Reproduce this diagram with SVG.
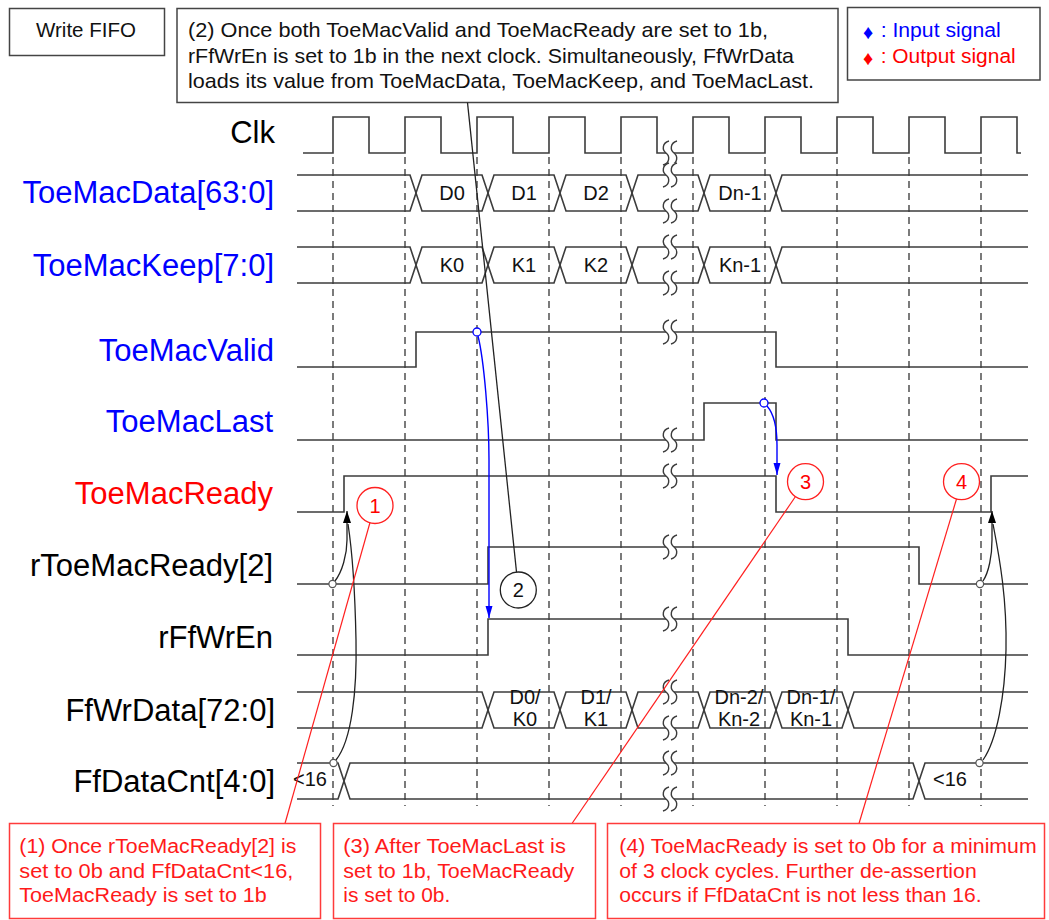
<svg xmlns="http://www.w3.org/2000/svg" width="1049" height="920" viewBox="0 0 1049 920">
<style>
text{font-family:"Liberation Sans",Arial,sans-serif}
.lbl{font-size:31px;text-anchor:end;fill:#000}
.blu{fill:#0000ff}
.rd{fill:#ff0000}
.w{fill:none;stroke:#3c3c3c;stroke-width:1.6}
.dash{fill:none;stroke:#5a5a5a;stroke-width:1.6;stroke-dasharray:7 5}
.cell{font-size:20px;text-anchor:middle;fill:#111}
.box{fill:#fff;stroke:#444;stroke-width:1.5}
.rbox{fill:#fff;stroke:#ff3b3b;stroke-width:1.5}
.note{font-size:21px;fill:#111}
.rnote{font-size:19.5px;fill:#ff1a1a}
.mk{fill:#fff;stroke:#555;stroke-width:1.2}
.bmk{fill:#fff;stroke:#0000ff;stroke-width:1.3}
.bl{fill:none;stroke:#0000ff;stroke-width:1.4}
.kl{fill:none;stroke:#222;stroke-width:1.3}
.rl{fill:none;stroke:#ff2020;stroke-width:1.2}
.num{font-size:20px;text-anchor:middle}
</style>
<defs>
<g id="brk">
<path d="M-1,-12 C-8,-10 -8,-3 -4,0 C0,3 0,10 -7,12 L1,12 C8,10 8,3 4,0 C0,-3 0,-10 7,-12 Z" fill="#fff"/>
<path d="M-1,-12 C-8,-10 -8,-3 -4,0 C0,3 0,10 -7,12 M7,-12 C0,-10 0,-3 4,0 C8,3 8,10 1,12" fill="none" stroke="#3c3c3c" stroke-width="1.4"/>
</g>
<marker id="ab" markerUnits="userSpaceOnUse" markerWidth="14" markerHeight="10" refX="12" refY="3.5" orient="auto">
<path d="M0,0 L12,3.5 L0,7 Z" fill="#0000ff"/>
</marker>
<marker id="ak" markerUnits="userSpaceOnUse" markerWidth="14" markerHeight="10" refX="12" refY="4" orient="auto">
<path d="M0,0 L12,4 L0,8 Z" fill="#000"/>
</marker>
</defs>

<rect width="1049" height="920" fill="#fff"/>

<g id="title">
<rect class="box" x="9.5" y="8.5" width="155" height="47"/>
<text x="36" y="37.3" font-size="20" textLength="100" lengthAdjust="spacingAndGlyphs" fill="#111">Write FIFO</text>
</g>

<g id="note2">
<rect class="box" x="177" y="8.5" width="661" height="94"/>
<text class="note" x="188" y="37.3" textLength="580" lengthAdjust="spacingAndGlyphs">(2) Once both ToeMacValid and ToeMacReady are set to 1b,</text>
<text class="note" x="188" y="62.5" textLength="606" lengthAdjust="spacingAndGlyphs">rFfWrEn is set to 1b in the next clock. Simultaneously, FfWrData</text>
<text class="note" x="188" y="87.5" textLength="626" lengthAdjust="spacingAndGlyphs">loads its value from ToeMacData, ToeMacKeep, and ToeMacLast.</text>
</g>

<g id="legend">
<rect class="box" x="847.5" y="7.5" width="192.5" height="72.5"/>
<text x="868" y="38.5" font-size="20" text-anchor="middle" class="blu">♦</text>
<text x="880.7" y="37.3" font-size="20" class="blu" textLength="120" lengthAdjust="spacingAndGlyphs">: Input signal</text>
<text x="868" y="64.5" font-size="20" text-anchor="middle" class="rd">♦</text>
<text x="880.7" y="63.3" font-size="20" class="rd" textLength="135" lengthAdjust="spacingAndGlyphs">: Output signal</text>
</g>

<g id="grid">
<path class="dash" d="M333,157V806M405,157V806M477,157V806M549,157V806M621,157V806M693,157V806M765,157V806M837,157V806M909,157V806M981,157V806"/>
</g>

<g id="sig-clk">
<text class="lbl" x="275" y="142.7">Clk</text>
<path class="w" d="M303,153H333V117H369V153H405V117H441V153H477V117H513V153H549V117H585V153H621V117H657V153H693V117H729V153H765V117H801V153H837V117H873V153H909V117H945V153H981V117H1017V153H1021"/>
<use href="#brk" x="670" y="153"/>
</g>

<g id="sig-toemacdata">
<text class="lbl blu" x="274" y="203.3">ToeMacData[63:0]</text>
<path class="w" d="M297,175H410L422,211H482L494,175H554L566,211H626L638,175H698L710,211H770L782,175H1028"/>
<path class="w" d="M297,211H410L422,175H482L494,211H554L566,175H626L638,211H698L710,175H770L782,211H1028"/>
<use href="#brk" x="670" y="175"/>
<use href="#brk" x="670" y="211"/>
<text class="cell" x="452" y="200">D0</text>
<text class="cell" x="524" y="200">D1</text>
<text class="cell" x="596" y="200">D2</text>
<text class="cell" x="740" y="200">Dn-1</text>
</g>

<g id="sig-toemackeep">
<text class="lbl blu" x="274" y="276">ToeMacKeep[7:0]</text>
<path class="w" d="M297,247H410L422,283H482L494,247H554L566,283H626L638,247H698L710,283H770L782,247H1028"/>
<path class="w" d="M297,283H410L422,247H482L494,283H554L566,247H626L638,283H698L710,247H770L782,283H1028"/>
<use href="#brk" x="670" y="247"/>
<use href="#brk" x="670" y="283"/>
<text class="cell" x="452" y="272">K0</text>
<text class="cell" x="524" y="272">K1</text>
<text class="cell" x="596" y="272">K2</text>
<text class="cell" x="740" y="272">Kn-1</text>
</g>

<g id="sig-toemacvalid">
<text class="lbl blu" x="274" y="361">ToeMacValid</text>
<path class="w" d="M297,367H416V332H776V367H1028"/>
<use href="#brk" x="670" y="332"/>
</g>

<g id="sig-toemaclast">
<text class="lbl blu" x="273" y="432">ToeMacLast</text>
<path class="w" d="M297,440H704V403H776V440H1028"/>
<use href="#brk" x="670" y="440"/>
</g>

<g id="sig-toemacready">
<text class="lbl rd" x="273" y="503.5">ToeMacReady</text>
<path class="w" d="M297,512H344V476H776V512H991V476H1028"/>
<use href="#brk" x="670" y="476"/>
</g>

<g id="sig-rtoemacready">
<text class="lbl" x="273" y="576">rToeMacReady[2]</text>
<path class="w" d="M297,584H488V547H919V584H1028"/>
<use href="#brk" x="670" y="547"/>
</g>

<g id="sig-rffwren">
<text class="lbl" x="273" y="647.5">rFfWrEn</text>
<path class="w" d="M297,655H488V619H848V655H1028"/>
<use href="#brk" x="670" y="619"/>
</g>

<g id="sig-ffwrdata">
<text class="lbl" x="275" y="721">FfWrData[72:0]</text>
<path class="w" d="M297,692H482L494,728H554L566,692H626L638,728H698L710,692H770L782,728H842L854,692H1028"/>
<path class="w" d="M297,728H482L494,692H554L566,728H626L638,692H698L710,728H770L782,692H842L854,728H1028"/>
<use href="#brk" x="670" y="692"/>
<use href="#brk" x="670" y="728"/>
<text class="cell" x="525" y="704">D0/</text>
<text class="cell" x="525" y="726">K0</text>
<text class="cell" x="596" y="704">D1/</text>
<text class="cell" x="596" y="726">K1</text>
<text class="cell" x="739" y="704">Dn-2/</text>
<text class="cell" x="739" y="726">Kn-2</text>
<text class="cell" x="811" y="704">Dn-1/</text>
<text class="cell" x="811" y="726">Kn-1</text>
</g>

<g id="sig-ffdatacnt">
<text class="lbl" x="275" y="792">FfDataCnt[4:0]</text>
<path class="w" d="M297,763H338L350,799H913L925,763H1028"/>
<path class="w" d="M297,799H338L350,763H913L925,799H1028"/>
<use href="#brk" x="670" y="763"/>
<use href="#brk" x="670" y="799"/>
<text class="cell" x="310" y="786">&lt;16</text>
<text class="cell" x="950" y="786">&lt;16</text>
</g>

<g id="connectors">
<path class="bl" d="M478,336C484,360 489,420 489,460L489,618" marker-end="url(#ab)"/>
<path class="bl" d="M767,406C774,414 777,428 777,445L777,475" marker-end="url(#ab)"/>
<path class="kl" d="M335,581C342,572 347,555 347,540L347,511" marker-end="url(#ak)"/>
<path class="kl" d="M336,760C352,740 357,690 356,640C355,590 352,550 348,524"/>
<path class="kl" d="M983,581C989,572 992,555 992,540L992,511" marker-end="url(#ak)"/>
<path class="kl" d="M983,760C997,740 1005,695 1006,650C1007,600 1000,560 993,524"/>
<circle class="bmk" cx="477" cy="332" r="4"/>
<circle class="bmk" cx="764" cy="403" r="4"/>
<circle class="mk" cx="332.5" cy="584" r="3.6"/>
<circle class="mk" cx="333.5" cy="763" r="3.6"/>
<circle class="mk" cx="980" cy="584" r="3.6"/>
<circle class="mk" cx="979.5" cy="763" r="3.6"/>
<path class="kl" d="M467.5,102.5L516.5,572" stroke-width="1.1"/>
<path class="rl" d="M370,522.5L285,823.5"/>
<path class="rl" d="M795.5,496.5L572,823.5"/>
<path class="rl" d="M956.5,499L859,823.5"/>
</g>

<g id="mark1">
<circle cx="375" cy="505.5" r="18" fill="#fff" stroke="#ff2020" stroke-width="1.3"/>
<text class="num rd" x="375" y="512.5">1</text>
</g>
<g id="mark2">
<circle cx="518.3" cy="590" r="18" fill="#fff" stroke="#222" stroke-width="1.3"/>
<text class="num" x="518.3" y="597" fill="#111">2</text>
</g>
<g id="mark3">
<circle cx="805.5" cy="481.7" r="18" fill="#fff" stroke="#ff2020" stroke-width="1.3"/>
<text class="num rd" x="805.5" y="488.7">3</text>
</g>
<g id="mark4">
<circle cx="961.5" cy="481.7" r="18" fill="#fff" stroke="#ff2020" stroke-width="1.3"/>
<text class="num rd" x="961.5" y="488.7">4</text>
</g>

<g id="note1">
<rect class="rbox" x="9.5" y="823.5" width="311" height="95"/>
<text class="rnote" x="19.3" y="853" textLength="277" lengthAdjust="spacingAndGlyphs">(1) Once rToeMacReady[2] is</text>
<text class="rnote" x="19.3" y="878" textLength="274" lengthAdjust="spacingAndGlyphs">set to 0b and FfDataCnt&lt;16,</text>
<text class="rnote" x="19.3" y="902.3" textLength="247.5" lengthAdjust="spacingAndGlyphs">ToeMacReady is set to 1b</text>
</g>
<g id="note3">
<rect class="rbox" x="333.5" y="823.5" width="262" height="95"/>
<text class="rnote" x="343.3" y="853" textLength="222.5" lengthAdjust="spacingAndGlyphs">(3) After ToeMacLast is</text>
<text class="rnote" x="343.3" y="878" textLength="231" lengthAdjust="spacingAndGlyphs">set to 1b, ToeMacReady</text>
<text class="rnote" x="343.3" y="902.3" textLength="107" lengthAdjust="spacingAndGlyphs">is set to 0b.</text>
</g>
<g id="note4">
<rect class="rbox" x="607.5" y="823.5" width="437" height="95"/>
<text class="rnote" x="619.3" y="852.5" textLength="417.4" lengthAdjust="spacingAndGlyphs">(4) ToeMacReady is set to 0b for a minimum</text>
<text class="rnote" x="619.3" y="877.5" textLength="357.4" lengthAdjust="spacingAndGlyphs">of 3 clock cycles. Further de-assertion</text>
<text class="rnote" x="619.3" y="902" textLength="362.4" lengthAdjust="spacingAndGlyphs">occurs if FfDataCnt is not less than 16.</text>
</g>
</svg>
